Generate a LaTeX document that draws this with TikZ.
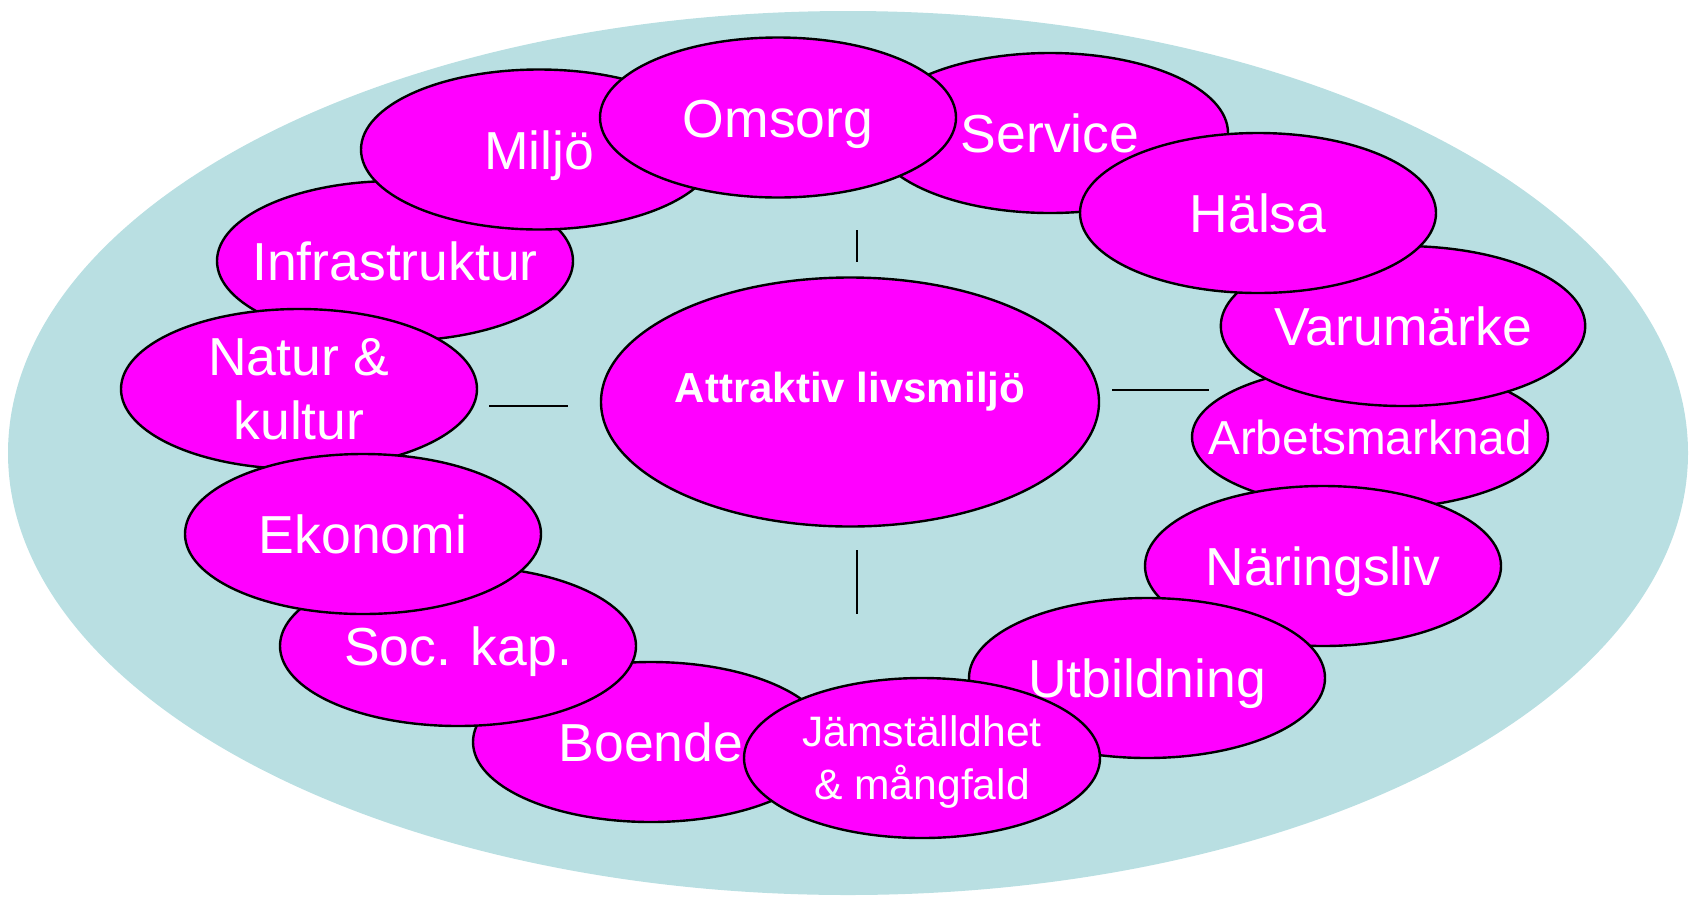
\documentclass[tikz,border=0pt]{standalone}
\usepackage{fontspec}
\setmainfont{Liberation Sans}
\usetikzlibrary{shapes.geometric}
\newlength{\du}
\setlength{\du}{0.5pt}
\definecolor{lagooncolor}{rgb}{0.725490, 0.874510, 0.886275}
\definecolor{areacolor}{rgb}{1.000000, 0.000000, 1.000000}
\tikzset{
  area/.style={ellipse, draw=black, fill=areacolor, line width=1.2pt, text=white,
    inner sep=0pt, align=center, minimum width=356\du, minimum height=160\du,
    font=\fontsize{26.75}{32}\selectfont},
  word/.style={area, text height=19.5pt, text depth=0pt},
  longword/.style={word, inner xsep=-20pt},
  hub/.style={area, minimum width=498\du, minimum height=249\du,
    text height=12pt, text depth=12pt, font=\bfseries\fontsize{21}{25}\selectfont},
  tick/.style={draw=black, line width=1pt}
}

\begin{document}
\begin{tikzpicture}
\pgftransformxscale{1.000000}
\pgftransformyscale{-1.000000}
\useasboundingbox (0.000000\du,0.000000\du) rectangle (1696.000000\du,901.000000\du);
\fill[lagooncolor] (848.000000\du,453.000000\du) ellipse [x radius=840.000000\du, y radius=442.000000\du];
% ring, back to front
\node[longword] (infra) at (395.000000\du,261.000000\du){Infrastruktur};
\node[word] (miljo) at (539.000000\du,149.500000\du){Miljö};
\node[word] (service) at (1050.000000\du,133.000000\du){Service};
\node[word] (omsorg) at (778.000000\du,117.500000\du){Omsorg};
\node[longword, text height=17.4pt, minimum height=144\du, font=\fontsize{23.85}{28}\selectfont] (arbete) at (1370.000000\du,437.000000\du){Arbetsmarknad};
\node[word] (varumarke) at (1403.000000\du,326.000000\du){Varumärke};
\node[word] (halsa) at (1258.000000\du,213.000000\du){Hälsa};
\node[word] (naring) at (1323.000000\du,566.000000\du){Näringsliv};
\node[word] (utbildning) at (1147.000000\du,678.000000\du){Utbildning};
\node[word] (boende) at (651.000000\du,742.000000\du){Boende};
\node[area, text depth=0pt, font=\fontsize{21.3}{26.5}\selectfont] (jamst) at (922.000000\du,758.000000\du){Jämställdhet\\\& mångfald};
\node[word] (sockap) at (458.000000\du,646.000000\du){Soc. kap.};
\node[area] (natur) at (299.000000\du,389.000000\du){Natur \&\\kultur};
\node[word] (ekonomi) at (363.000000\du,534.000000\du){Ekonomi};
% centre
\node[hub] (livsmiljo) at (850.000000\du,402.000000\du){Attraktiv livsmiljö};
% short strokes round the centre
\coordinate (ntop) at (857.000000\du,230.000000\du);
\coordinate (nbot) at (857.000000\du,262.000000\du);
\coordinate (stop) at (857.000000\du,550.000000\du);
\coordinate (sbot) at (857.000000\du,614.000000\du);
\coordinate (wlft) at (489.000000\du,406.000000\du);
\coordinate (wrgt) at (568.000000\du,406.000000\du);
\coordinate (elft) at (1112.000000\du,390.000000\du);
\coordinate (ergt) at (1209.000000\du,390.000000\du);
\draw[tick] (ntop)--(nbot);
\draw[tick] (stop)--(sbot);
\draw[tick] (wlft)--(wrgt);
\draw[tick] (elft)--(ergt);
\end{tikzpicture}
\end{document}
